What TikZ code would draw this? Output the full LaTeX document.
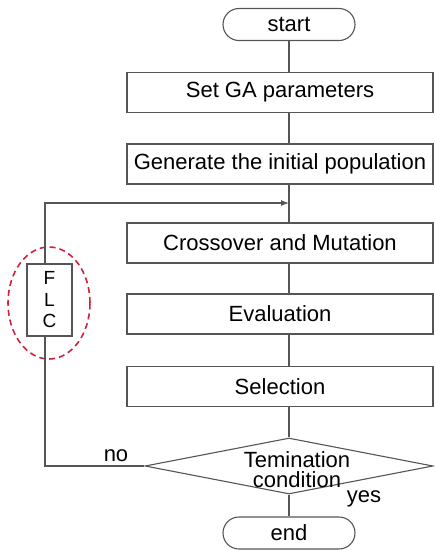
\documentclass[tikz,border=0pt]{standalone}
\usepackage{fontspec}
\setmainfont{Liberation Sans}
\usetikzlibrary{shapes.geometric,arrows.meta}
\definecolor{linegray}{HTML}{555555}
\definecolor{ringred}{HTML}{D0203A}
\begin{document}
\begin{tikzpicture}[x=1pt,y=-1pt,
  conn/.style={draw=linegray,line width=1.1pt},
  procbox/.style={draw=linegray,line width=1.1pt,rectangle,minimum width=306pt,
    minimum height=40pt,inner sep=0pt,font=\fontsize{22}{25}\selectfont},
  terminal/.style={draw=linegray,line width=1.1pt,rectangle,rounded corners=16pt,
    minimum width=132pt,minimum height=32pt,inner sep=0pt,font=\fontsize{22}{25}\selectfont},
  decision/.style={draw=linegray,line width=1.1pt,diamond,aspect=5.14,
    minimum width=288pt,minimum height=56pt,inner sep=0pt},
  lbl/.style={font=\fontsize{22}{25}\selectfont,inner sep=0pt},
  ring/.style={draw=ringred,line width=1.6pt,dash pattern=on 6pt off 4pt,ellipse,
    minimum width=82pt,minimum height=112pt,inner sep=0pt}
]
\useasboundingbox (0,0) rectangle (435,550);

% main column of steps
\node[terminal] (start) at (289,24.5) {start};
\node[procbox] (setga) at (280,92.5) {Set GA parameters};
\node[procbox] (gen) at (280,164) {Generate the initial population};
\node[procbox] (cross) at (280,243) {Crossover and Mutation};
\node[procbox] (eval) at (280,314) {Evaluation};
\node[procbox] (sel) at (280,386.5) {Selection};
\node[decision] (term) at (289,466) {};
\node[lbl,align=center,font=\fontsize{22}{20}\selectfont] (termtxt) at (297,470) {Temination\\condition};
\node[terminal] (end) at (289,533) {end};

% fuzzy logic controller on the loop
\node[draw=linegray,line width=1.1pt,rectangle,minimum width=45pt,minimum height=72pt,
  inner sep=0pt,align=center,font=\fontsize{19}{21.5}\selectfont] (flc) at (49.5,300) {F\\L\\C};
\node[ring] (flcring) at (49,303) {};

% loop corners
\coordinate (loopbl) at (45,466);
\coordinate (looptl) at (45,203);
\coordinate (join) at (289,203);

% vertical connectors
\draw[conn] (start.south) -- (start.south |- setga.north);
\draw[conn] (start.south |- setga.south) -- (start.south |- gen.north);
\draw[conn] (start.south |- gen.south) -- (start.south |- cross.north);
\draw[conn] (start.south |- cross.south) -- (start.south |- eval.north);
\draw[conn] (start.south |- eval.south) -- (start.south |- sel.north);
\draw[conn] (start.south |- sel.south) -- (term.north);
\draw[conn] (term.south) -- (end.north);

% feedback loop through the FLC
\draw[conn] (term.west) -- (loopbl) -- (loopbl |- flc.south);
\draw[conn,-{Latex[length=8pt,width=6pt]}] (loopbl |- flc.north) -- (looptl) -- (join);

% branch labels
\node[lbl] (nolbl) at (116,456) {no};
\node[lbl] (yeslbl) at (364,499) {yes};
\end{tikzpicture}
\end{document}
